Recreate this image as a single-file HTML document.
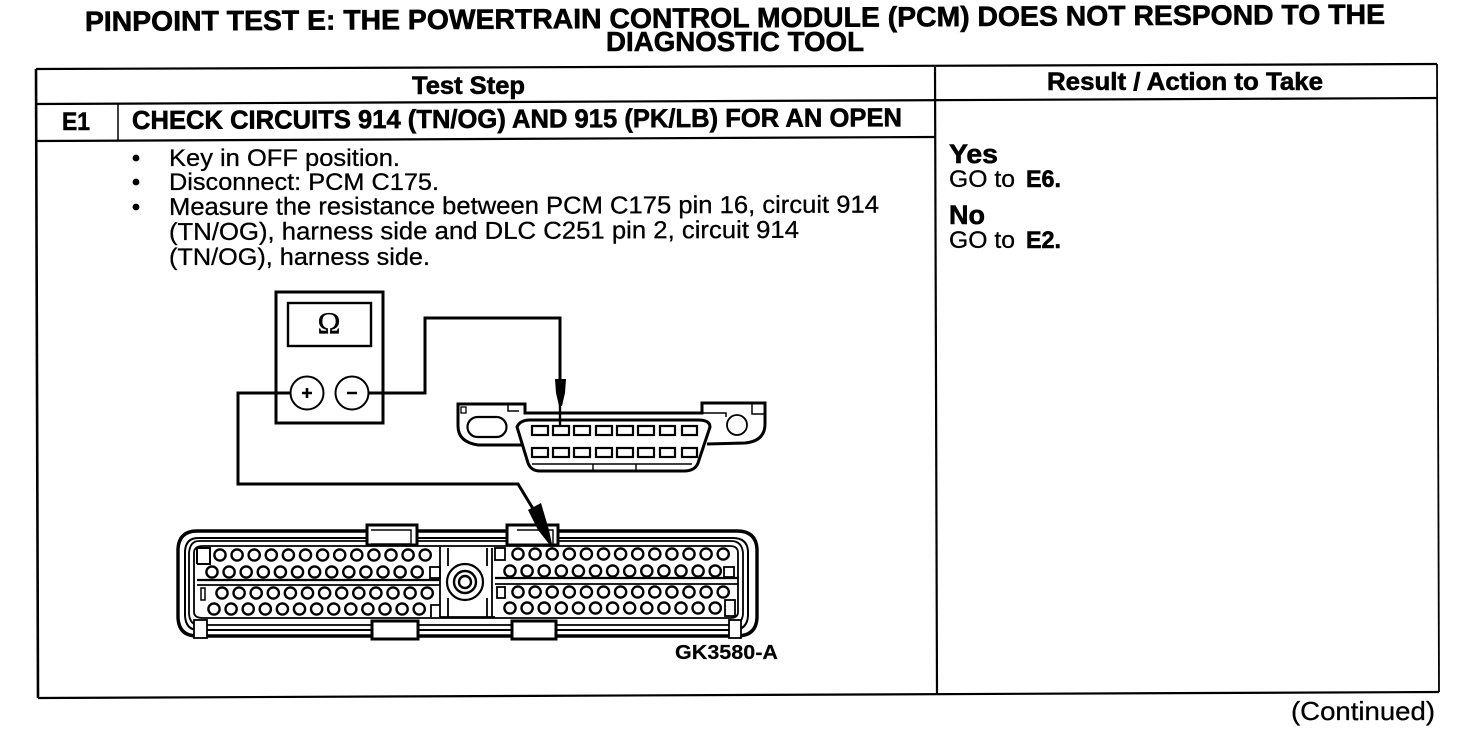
<!DOCTYPE html>
<html><head><meta charset="utf-8">
<style>
html,body{margin:0;padding:0;background:#fff;width:1472px;height:732px;overflow:hidden}
svg{display:block}
text{font-family:"Liberation Sans",sans-serif;fill:#000;stroke:#000;stroke-width:.3}
.b{font-weight:bold;stroke-width:.6}
</style></head><body>
<svg width="1472" height="732" viewBox="0 0 1472 732" xmlns="http://www.w3.org/2000/svg">
<defs>
<g id="r" fill="#fff" stroke="#000" stroke-width="2.4">
<circle cx="0" r="5.6"/><circle cx="17.1" r="5.6"/><circle cx="34.2" r="5.6"/><circle cx="51.3" r="5.6"/><circle cx="68.4" r="5.6"/><circle cx="85.5" r="5.6"/><circle cx="102.6" r="5.6"/><circle cx="119.7" r="5.6"/><circle cx="136.8" r="5.6"/><circle cx="153.9" r="5.6"/><circle cx="171" r="5.6"/><circle cx="188.1" r="5.6"/><circle cx="205.2" r="5.6"/>
</g>
</defs>

<!-- title -->
<text class="b" x="85" y="31" font-size="28" textLength="1300" lengthAdjust="spacingAndGlyphs" transform="rotate(-0.32 85 31)">PINPOINT TEST E: THE POWERTRAIN CONTROL MODULE (PCM) DOES NOT RESPOND TO THE</text>
<text class="b" x="606" y="51" font-size="28" textLength="258" lengthAdjust="spacingAndGlyphs">DIAGNOSTIC TOOL</text>

<!-- table -->
<g stroke="#000" fill="none">
<path d="M36 69 L1437 64" stroke-width="2.2"/>
<path d="M36 69 L38 698" stroke-width="2.6"/>
<path d="M38 698 L1439 692" stroke-width="2.2"/>
<path d="M1437 64 L1439 692" stroke-width="1.8"/>
<path d="M935 67 L937 694" stroke-width="2.2"/>
<path d="M36 104 L1437 98" stroke-width="2.2"/>
<path d="M37 141 L935 137" stroke-width="2.2"/>
<path d="M118 103 L118 141" stroke-width="1.5"/>
</g>

<!-- header text -->
<text class="b" x="412" y="94" font-size="25" textLength="113" lengthAdjust="spacingAndGlyphs">Test Step</text>
<text class="b" x="1047" y="90" font-size="25" textLength="276" lengthAdjust="spacingAndGlyphs">Result / Action to Take</text>
<text class="b" x="62" y="130" font-size="25" textLength="28" lengthAdjust="spacingAndGlyphs">E1</text>
<text class="b" x="132" y="129" font-size="26" textLength="770" lengthAdjust="spacingAndGlyphs" transform="rotate(-0.2 132 129)">CHECK CIRCUITS 914 (TN/OG) AND 915 (PK/LB) FOR AN OPEN</text>

<!-- bullets -->
<circle cx="136" cy="158" r="3.4"/>
<circle cx="136" cy="182" r="3.4"/>
<circle cx="136" cy="207" r="3.4"/>
<text x="169" y="166" font-size="24.5" textLength="231" lengthAdjust="spacingAndGlyphs">Key in OFF position.</text>
<text x="169" y="190" font-size="24.5" textLength="270" lengthAdjust="spacingAndGlyphs">Disconnect: PCM C175.</text>
<text x="169" y="215" font-size="24.5" textLength="710" lengthAdjust="spacingAndGlyphs" transform="rotate(-0.2 169 215)">Measure the resistance between PCM C175 pin 16, circuit 914</text>
<text x="169" y="240" font-size="24.5" textLength="630" lengthAdjust="spacingAndGlyphs" transform="rotate(-0.2 169 240)">(TN/OG), harness side and DLC C251 pin 2, circuit 914</text>
<text x="169" y="265" font-size="24.5" textLength="261" lengthAdjust="spacingAndGlyphs">(TN/OG), harness side.</text>

<!-- result text -->
<text class="b" x="949" y="163" font-size="27" textLength="49" lengthAdjust="spacingAndGlyphs">Yes</text>
<text x="949" y="187" font-size="24" textLength="66" lengthAdjust="spacingAndGlyphs">GO to</text>
<text class="b" x="1026" y="187" font-size="24" textLength="35" lengthAdjust="spacingAndGlyphs">E6.</text>
<text class="b" x="949" y="224" font-size="27" textLength="36" lengthAdjust="spacingAndGlyphs">No</text>
<text x="949" y="248" font-size="24" textLength="66" lengthAdjust="spacingAndGlyphs">GO to</text>
<text class="b" x="1026" y="248" font-size="24" textLength="35" lengthAdjust="spacingAndGlyphs">E2.</text>
<text x="1291" y="720" font-size="26" textLength="144" lengthAdjust="spacingAndGlyphs">(Continued)</text>

<!-- meter -->
<g fill="none" stroke="#000">
<rect x="276" y="292" width="107" height="131" stroke-width="3"/>
<rect x="288" y="303" width="83" height="43" stroke-width="2.4"/>
<circle cx="307" cy="393" r="16.5" stroke-width="2"/>
<circle cx="352" cy="393" r="16.5" stroke-width="2"/>
<path d="M369 393 H425 V318 H560 V382" stroke-width="3"/>
<path d="M290 393 H238 V484 H518 L535 512" stroke-width="3"/>
<path d="M302 393 H312 M307 388 V398 M347 393 H357" stroke-width="2.6"/>
</g>
<text x="329" y="333" font-size="31" text-anchor="middle" style="font-family:'Liberation Serif',serif">Ω</text>

<!-- DLC connector -->
<g fill="none" stroke="#000">
<path d="M522 445 L478 445 Q458 442 458 426 V404 H525 V413 H702 V403 H765 V424 Q765 441 745 443 L707 444" stroke-width="3"/>
<path d="M517 427 Q520 420 530 420 H698 Q710 420 710 427 L698 463 Q695 471 684 471 H540 Q531 471 528 463 Z" stroke-width="3"/>
<rect x="467.5" y="417" width="39" height="20" rx="10" stroke-width="2.2"/>
<circle cx="737" cy="425" r="10" stroke-width="1.8"/>
<rect x="461" y="407" width="5" height="6" stroke-width="1.3"/>
<path d="M508 404 V411 H519 M752 403 V414 H765 M702 413 H726 V417" stroke-width="1.5"/>
<path d="M532 464 H692 M593 464 V471 M636 464 V471" stroke-width="1.4"/>
<g stroke-width="2.2">
<rect x="532" y="426" width="16" height="9"/><rect x="553" y="426" width="16" height="9"/><rect x="574" y="426" width="16" height="9"/><rect x="596" y="426" width="16" height="9"/><rect x="617" y="426" width="16" height="9"/><rect x="638" y="426" width="16" height="9"/><rect x="660" y="426" width="15" height="9"/><rect x="682" y="426" width="15" height="9"/>
<rect x="532" y="448" width="16" height="9"/><rect x="553" y="448" width="16" height="9"/><rect x="574" y="448" width="16" height="9"/><rect x="596" y="448" width="16" height="9"/><rect x="617" y="448" width="16" height="9"/><rect x="638" y="448" width="16" height="9"/><rect x="660" y="448" width="15" height="9"/><rect x="682" y="448" width="15" height="9"/>
</g>
</g>
<path d="M555 379 H566 L565 393 L562 406 H559 L556 393 Z" fill="#000"/>
<path d="M560 400 V426" stroke="#000" stroke-width="2.4"/>

<!-- PCM connector -->
<g fill="none" stroke="#000">
<path d="M197 531 H737 Q756 531 757 549 V618 Q756 636 737 636 H197 Q179 636 178 618 V549 Q179 531 197 531 Z" stroke-width="3.4"/>
<path d="M198 538 H733 Q747 538 748 551 V616 Q747 630 733 630 H198 Q186 630 185 616 V551 Q186 538 198 538 Z" stroke-width="2"/>
<path d="M199 541 H731 Q742 541 743 553 V614 Q742 625 731 625 H199 Q190 625 189 614 V553 Q190 541 199 541 Z" stroke-width="1.8"/>
<path d="M203 546 H730 Q738 546 738 553 V612 Q738 618 730 618 H203 Q194 618 194 612 V553 Q194 546 203 546 Z" stroke-width="1.8"/>
<path d="M197 580 H440 M495 578 H738" stroke-width="2.2"/>
<path d="M197 585 H440 M495 584 H738" stroke-width="1.8"/>
<path d="M197 564 V548 H210 V564 H197" stroke-width="2"/>
<path d="M440 547 V617 M448 548 V566 M448 598 V617 M487 548 V566 M487 598 V617 M492 548 V617 M440 617 H495" stroke-width="1.8"/>
<circle cx="465" cy="582" r="18" fill="#fff" stroke-width="2.2"/>
<circle cx="465" cy="582" r="11" stroke-width="2.4"/>
<circle cx="465" cy="582" r="6" stroke-width="2.4"/>
<!-- tabs -->
<path d="M367 525 H417 V545 H367 Z" fill="#fff" stroke-width="3"/>
<path d="M371 530 H411 V544 H371" stroke-width="1.4"/>
<path d="M507 525 H558 V545 H507 Z" fill="#fff" stroke-width="3"/>
<path d="M517 530 H553 V544" stroke-width="1.4"/>
<path d="M372 621 H418 V639 H372 Z" fill="#fff" stroke-width="3"/>
<path d="M512 621 H556 V639 H512 Z" fill="#fff" stroke-width="3"/>
<rect x="194" y="620" width="13" height="18" fill="#fff" stroke-width="1.8"/>
<rect x="729" y="620" width="12" height="18" fill="#fff" stroke-width="1.8"/>
<rect x="430" y="567" width="10" height="11" stroke-width="1.8"/>
<rect x="495" y="548" width="10" height="12" stroke-width="1.8"/>
<rect x="724" y="567" width="10" height="10" stroke-width="1.8"/>
<rect x="497" y="587" width="8" height="11" stroke-width="1.8"/>
<rect x="201" y="588" width="4" height="12" stroke-width="1.5"/>
<rect x="725" y="600" width="10" height="16" stroke-width="1.8"/>
<path d="M431 617 V605 H440" stroke-width="1.8"/>
</g>
<use href="#r" x="220" y="555"/>
<use href="#r" x="212" y="572"/>
<use href="#r" x="222" y="593"/>
<use href="#r" x="214" y="609"/>
<use href="#r" x="518" y="554"/>
<use href="#r" x="510" y="571"/>
<use href="#r" x="518" y="592"/>
<use href="#r" x="510" y="608"/>
<!-- probe -->
<path d="M528 510 L541 503 L549 530 L553 549 L538 530 Z" fill="#000"/>

<text class="b" x="675" y="659" font-size="20" textLength="103" lengthAdjust="spacingAndGlyphs" style="stroke-width:.2">GK3580-A</text>
</svg>
</body></html>
